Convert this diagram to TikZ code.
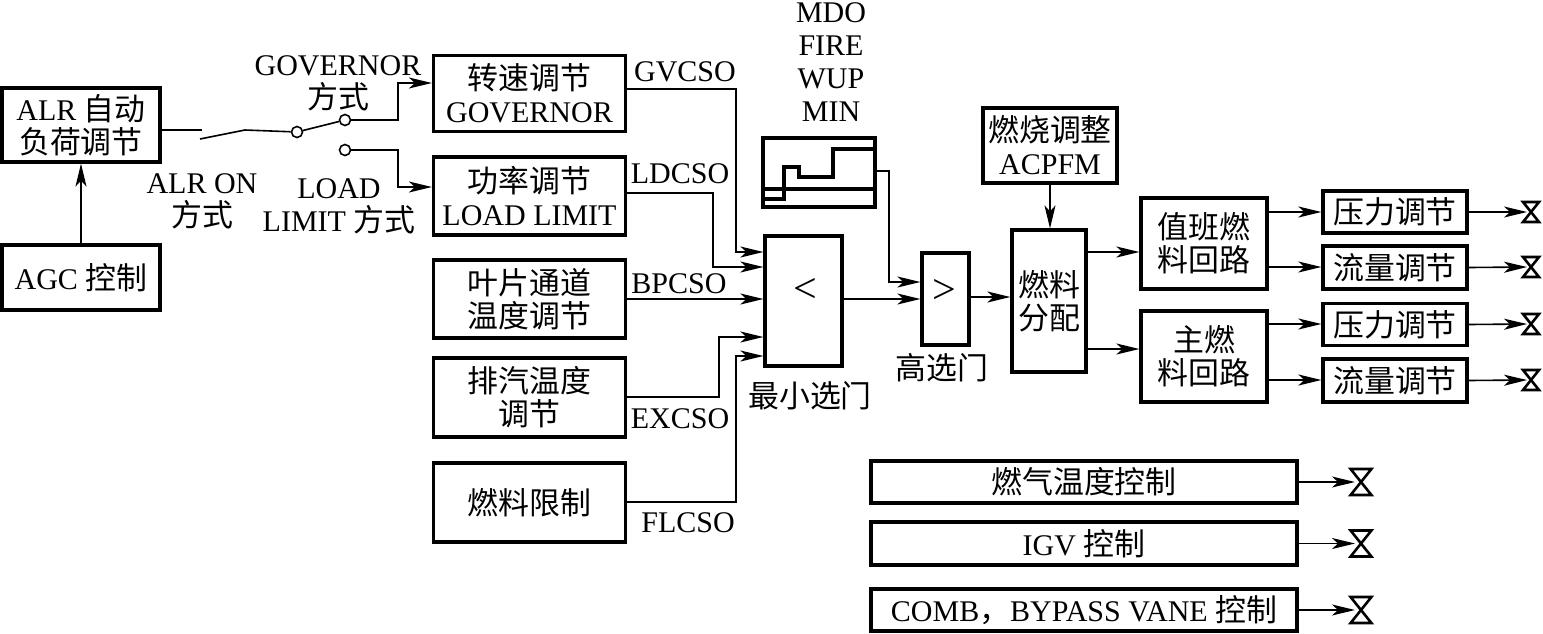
\documentclass[tikz,border=0pt]{standalone}
\usepackage{fontspec}
\setmainfont{Liberation Serif}
\newfontfamily\cjk[Scale=1.03]{Noto Sans CJK SC}
\usetikzlibrary{arrows.meta,calc}
\begin{document}
\begin{tikzpicture}[x=1pt,y=-1pt,
  every node/.style={font=\fontsize{30}{33}\selectfont, inner sep=0pt},
  box/.style={draw, line width=3.2pt, align=center},
  conn/.style={line width=1.6pt},
  arr/.style={conn, -{Stealth[length=23pt,width=11pt,inset=6pt]}},
  contact/.style={circle, draw, line width=1.6pt, minimum size=11pt, inner sep=0pt},
  lbl/.style={align=center},
  valve/.pic={\draw[line width=2.6pt, line join=miter] (-8,-10) -- (8,-10) -- (-8,10) -- (8,10) -- cycle;}
]
\useasboundingbox (0,0) rectangle (1543,633);

% left column
\node[box, minimum width=158, minimum height=74] (alr) at (81,125) {ALR {\cjk 自动}\\{\cjk 负荷调节}};
\node[box, minimum width=158, minimum height=65] (agc) at (81,277.5) {AGC {\cjk 控制}};
\draw[arr] (agc.north) -- (alr.south);

% switch
\coordinate (s0) at (202,130);
\coordinate (s1) at (200,139);
\coordinate (s2) at (245,130);
\node[contact] (c1) at (297,132) {};
\node[contact] (c2) at (345,120) {};
\node[contact] (c3) at (345,150) {};
\draw[conn] (alr.east |- s0) -- (s0);
\draw[conn] (s1) -- (s2) -- (c1);
\draw[conn] (c1) -- (c2);

\node[lbl] (tgov) at (338,83) {GOVERNOR\\{\cjk 方式}};
\node[lbl] (talr) at (202,201) {ALR ON\\{\cjk 方式}};
\node[lbl] (tload) at (339,206) {LOAD\\LIMIT {\cjk 方式}};

% middle column
\node[box, minimum width=192, minimum height=76] (gov) at (529.5,93.5) {{\cjk 转速调节}\\GOVERNOR};
\node[box, minimum width=192, minimum height=78] (ld) at (529.5,196) {{\cjk 功率调节}\\LOAD LIMIT};
\node[box, minimum width=192, minimum height=78] (bp) at (529.5,299) {{\cjk 叶片通道}\\{\cjk 温度调节}};
\node[box, minimum width=192, minimum height=79] (ex) at (529.5,397.5) {{\cjk 排汽温度}\\{\cjk 调节}};
\node[box, minimum width=192, minimum height=79] (fl) at (529.5,502.5) {{\cjk 燃料限制}};

\draw[arr] (c2.east) -- (398,120) -- (398,83) -- (gov.west |- 0,83);
\draw[arr] (c3.east) -- (398,150) -- (398,187) -- (ld.west |- 0,187);

\node (lgv) at (685,72) {GVCSO};
\node (lld) at (680,174) {LDCSO};
\node (lbp) at (679,284) {BPCSO};
\node (lex) at (680,419) {EXCSO};
\node (lfl) at (688,523) {FLCSO};

% min gate
\node[box, minimum width=77, minimum height=130] (min) at (803.5,301) {};
\node[font=\fontsize{42}{42}\selectfont] (tlt) at (805,290) {<};
\node (tmin) at (810,396) {\cjk 最小选门};

\draw[arr] (gov.east |- 0,89) -- (736,89) -- (736,252) -- (min.west |- 0,252);
\draw[arr] (ld.east |- 0,193) -- (713,193) -- (713,267) -- (min.west |- 0,267);
\draw[arr] (bp.east |- 0,299) -- (min.west |- 0,299);
\draw[arr] (ex.east |- 0,397) -- (719,397) -- (719,337) -- (min.west |- 0,337);
\draw[arr] (fl.east |- 0,502) -- (736,502) -- (736,356) -- (min.west |- 0,356);

% MDO graph
\node[lbl, anchor=south, font=\fontsize{30}{33}\selectfont] (tmdo) at (831,122) {MDO\\FIRE\\WUP\\MIN};
\node[box, minimum width=112, minimum height=69] (mdo) at (819,172.5) {};
\draw[line width=3.2pt] (mdo.west |- 0,189) -- (mdo.east |- 0,189);
\draw[line width=3.2pt] (mdo.west |- 0,199) -- (784,199) -- (784,167) -- (799,167) -- (799,177) -- (833,177) -- (833,149) -- (mdo.east |- 0,149);

% max gate
\node[box, minimum width=47, minimum height=92] (max) at (945.5,299) {};
\node[font=\fontsize{42}{42}\selectfont] (tgt) at (944,291) {>};
\node (tmax) at (942,368) {\cjk 高选门};
\draw[arr] (min.east |- 0,299) -- (max.west |- 0,299);
\draw[arr] (mdo.east |- 0,171) -- (889,171) -- (889,282) -- (max.west |- 0,282);

% fuel distribution
\node[box, minimum width=134, minimum height=75] (acp) at (1050,145.5) {{\cjk 燃烧调整}\\ACPFM};
\node[box, minimum width=74, minimum height=142] (dist) at (1049,301) {{\cjk 燃料}\\{\cjk 分配}};
\draw[arr] (max.east |- 0,297) -- (dist.west |- 0,297);
\draw[arr] (acp.south) -- (acp.south |- dist.north);

\node[box, minimum width=126, minimum height=91] (duty) at (1204,243.5) {{\cjk 值班燃}\\{\cjk 料回路}};
\node[box, minimum width=126, minimum height=91] (main) at (1204,356.5) {{\cjk 主燃}\\{\cjk 料回路}};
\draw[arr] (dist.east |- 0,252) -- (duty.west |- 0,252);
\draw[arr] (dist.east |- 0,349) -- (main.west |- 0,349);

\node[box, minimum width=144, minimum height=42] (p1) at (1395,212) {\cjk 压力调节};
\node[box, minimum width=144, minimum height=43] (f1) at (1395,267.5) {\cjk 流量调节};
\node[box, minimum width=144, minimum height=42] (p2) at (1395,324.5) {\cjk 压力调节};
\node[box, minimum width=144, minimum height=43] (f2) at (1395,380.5) {\cjk 流量调节};
\draw[arr] (duty.east |- 0,212) -- (p1.west |- 0,212);
\draw[arr] (duty.east |- 0,267) -- (f1.west |- 0,267);
\draw[arr] (main.east |- 0,324) -- (p2.west |- 0,324);
\draw[arr] (main.east |- 0,380) -- (f2.west |- 0,380);

% valves right
\coordinate (v1) at (1527,212);
\coordinate (v2) at (1527,267);
\coordinate (v3) at (1527,324);
\coordinate (v4) at (1527,380);
\pic at (1531,212) {valve};
\pic at (1531,267) {valve};
\pic at (1531,324) {valve};
\pic at (1531,380) {valve};
\draw[arr] (p1.east) -- (v1);
\draw[arr] (f1.east) -- (v2);
\draw[arr] (p2.east) -- (v3);
\draw[arr] (f2.east) -- (v4);

% bottom boxes
\node[box, minimum width=426, minimum height=42] (gt) at (1084,482) {\cjk 燃气温度控制};
\node[box, minimum width=426, minimum height=43] (igv) at (1084,543.5) {IGV {\cjk 控制}};
\node[box, minimum width=426, minimum height=42] (comb) at (1084,610) {COMB{\cjk ，}BYPASS VANE {\cjk 控制}};
\coordinate (v5) at (1355,482);
\coordinate (v6) at (1355,543.5);
\coordinate (v7) at (1355,610);
\pic[scale=1.3] at (1361,482) {valve};
\pic[scale=1.3] at (1361,543.5) {valve};
\pic[scale=1.3] at (1361,610) {valve};
\draw[arr] (gt.east) -- (v5);
\draw[arr] (igv.east) -- (v6);
\draw[arr] (comb.east) -- (v7);
\end{tikzpicture}
\end{document}
